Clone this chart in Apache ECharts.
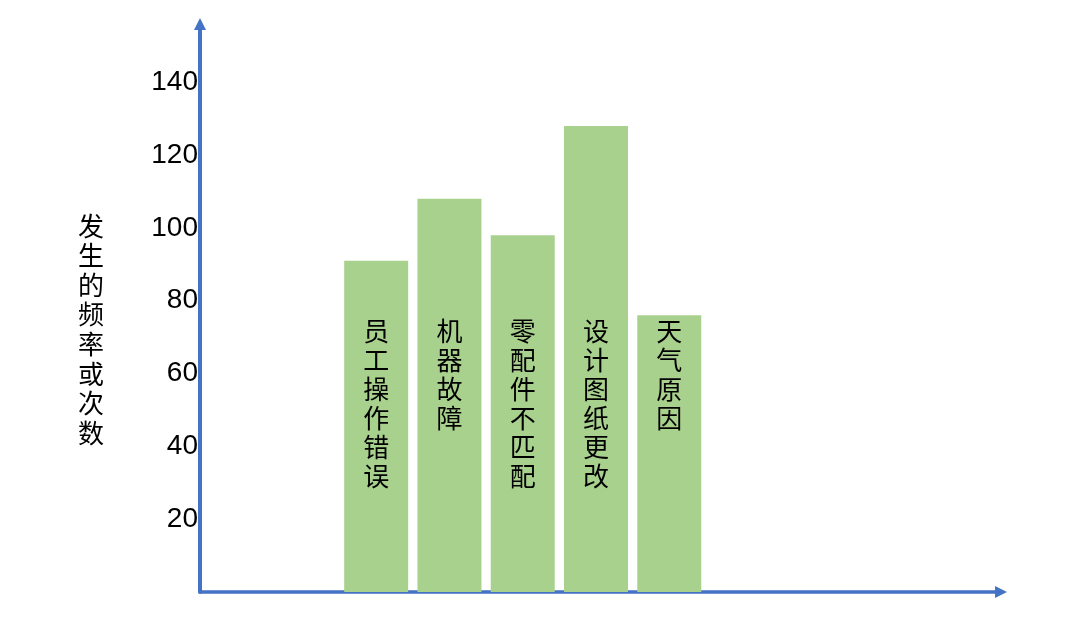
<!DOCTYPE html>
<html>
<head>
    <meta charset="utf-8">
    <title>发生的频率或次数</title>
    <script src="https://cdn.jsdelivr.net/npm/echarts@6/dist/echarts.min.js"></script>
    <style>
        html, body { margin: 0; padding: 0; background: #fff; }
        #main { width: 1080px; height: 635px; }
    </style>
</head>
<body>
<div id="main"></div>
<script type="text/javascript">
    // 数据
    var slots = ['', '', '员工操作错误', '机器故障', '零配件不匹配', '设计图纸更改', '天气原因', '', '', '', ''];
    var counts = [null, null, 91, 108, 98, 128, 76, null, null, null, null];
    var tickValues = [20, 40, 60, 80, 100, 120, 140];
    var yMax = 156;
    var labelBase = 77; // 柱内文字统一从这个高度开始

    var axisBlue = '#4472C4';
    var barGreen = '#A9D18E';

    var labelAnchor = counts.map(function (v) { return v == null ? null : labelBase; });

    var myChart = echarts.init(document.getElementById('main'));

    var option = {
        animation: false,
        backgroundColor: '#fff',
        grid: [
            { left: 200, right: 79, top: 24, bottom: 43 },   // 坐标轴
            { left: 193, right: 81, top: 24, bottom: 43 }    // 柱子
        ],
        xAxis: [
            {
                gridIndex: 0, type: 'value', min: 0, max: 1,
                axisLine: { show: true, symbol: ['none', 'triangle'], symbolSize: [12, 12],
                    lineStyle: { color: axisBlue, width: 3.5 } },
                axisTick: { show: false }, axisLabel: { show: false }, splitLine: { show: false }
            },
            {
                gridIndex: 1, type: 'category', data: slots, show: false
            }
        ],
        yAxis: [
            {
                gridIndex: 0, type: 'value', min: 0, max: yMax, interval: 20,
                axisLine: { show: true, symbol: ['none', 'triangle'], symbolSize: [12, 12],
                    lineStyle: { color: axisBlue, width: 4 } },
                axisTick: { show: false },
                splitLine: { show: false },
                axisLabel: {
                    margin: 2,
                    color: '#000',
                    fontSize: 28,
                    fontFamily: 'Liberation Sans, Arial, sans-serif',
                    formatter: function (v) {
                        return tickValues.indexOf(v) >= 0 ? String(v) : '';
                    }
                }
            },
            {
                gridIndex: 1, type: 'value', min: 0, max: yMax, show: false
            }
        ],
        series: [
            {
                name: '次数',
                type: 'bar',
                xAxisIndex: 1, yAxisIndex: 1,
                data: counts,
                barWidth: 64,
                itemStyle: { color: barGreen }
            },
            {
                name: '标签',
                type: 'bar',
                xAxisIndex: 1, yAxisIndex: 1,
                data: labelAnchor,
                barWidth: 64,
                barGap: '-100%',
                silent: true,
                itemStyle: { color: 'rgba(0,0,0,0)' },
                label: {
                    show: true,
                    position: 'insideTop',
                    distance: 5,
                    color: '#000',
                    fontSize: 26,
                    lineHeight: 29,
                    fontFamily: 'Noto Sans CJK SC',
                    formatter: function (p) {
                        return p.name.split('').join('\n');
                    }
                }
            }
        ],
        graphic: [
            {
                type: 'text',
                left: 78,
                top: 211,
                style: {
                    text: '发生的频率或次数'.split('').join('\n'),
                    fill: '#000',
                    fontSize: 26,
                    lineHeight: 29.6,
                    fontFamily: 'Noto Sans CJK SC'
                }
            }
        ]
    };

    myChart.setOption(option);
</script>
</body>
</html>
